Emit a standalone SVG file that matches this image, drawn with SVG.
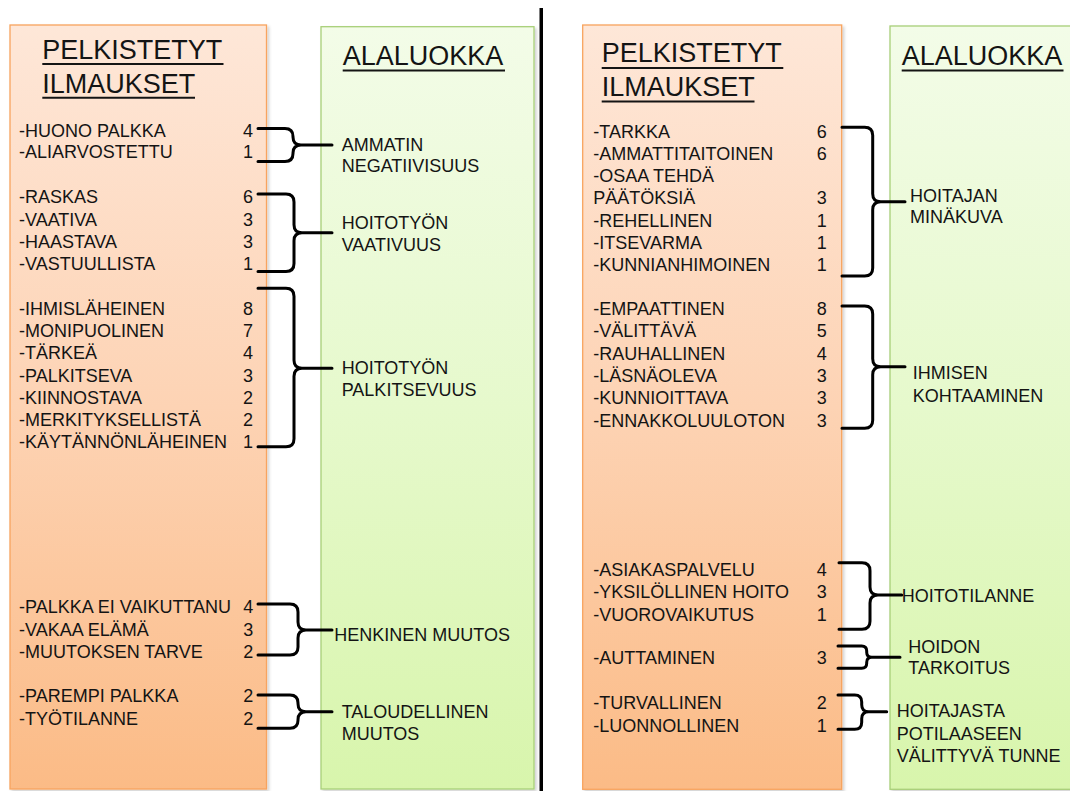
<svg xmlns="http://www.w3.org/2000/svg" width="1070" height="791" viewBox="0 0 1070 791">
<defs>
<linearGradient id="gOr" x1="0" y1="0" x2="0" y2="1">
<stop offset="0" stop-color="#fee7d8"/>
<stop offset="0.5" stop-color="#fdd3b4"/>
<stop offset="1" stop-color="#fbbb86"/>
</linearGradient>
<linearGradient id="gGr" x1="0" y1="0" x2="0" y2="1">
<stop offset="0" stop-color="#f3fce8"/>
<stop offset="0.5" stop-color="#e6f9cc"/>
<stop offset="1" stop-color="#d8f5ac"/>
</linearGradient>
<filter id="sh" x="-5%" y="-5%" width="115%" height="115%">
<feDropShadow dx="2" dy="2" stdDeviation="1.5" flood-color="#000" flood-opacity="0.18"/>
</filter>
</defs>
<style>
.or{fill:url(#gOr);stroke:#f8a45e;stroke-width:1.3;filter:url(#sh)}
.gr{fill:url(#gGr);stroke:#a8cf78;stroke-width:1.3;filter:url(#sh)}
text{font-family:"Liberation Sans",Arial,sans-serif;fill:#141414}
.h{font-size:27px}
.t{font-size:18px}
.n{font-size:18px;text-anchor:end}
.ul{stroke:#141414;stroke-width:2}
.br{fill:none;stroke:#000;stroke-width:3;stroke-linecap:round;stroke-linejoin:round}
</style>
<rect width="1070" height="791" fill="#ffffff"/>

<!-- divider -->
<rect id="divider" x="539.5" y="8" width="3.5" height="783" fill="#000"/>

<!-- Left panel -->
<g id="left-expressions">
<rect class="or" x="10" y="25" width="256.5" height="764"/>
<text class="h" x="42.3" y="59.3">PELKISTETYT</text>
<line class="ul" x1="42.3" y1="64" x2="223.5" y2="64"/>
<text class="h" x="42.3" y="92.7">ILMAUKSET</text>
<line class="ul" x1="42.3" y1="97.7" x2="195" y2="97.7"/>
</g>
<g id="left-subclass">
<rect class="gr" x="321" y="26.7" width="213" height="762.3"/>
<text class="h" x="342.7" y="65">ALALUOKKA</text>
<line class="ul" x1="342.7" y1="70.5" x2="505" y2="70.5"/>
</g>

<g id="group-l1">
<text class="t" x="19" y="136.7">-HUONO PALKKA</text><text class="n" x="253" y="136.7">4</text>
<text class="t" x="19" y="157.7">-ALIARVOSTETTU</text><text class="n" x="253" y="157.7">1</text>
</g>
<g id="label-l1">
<text class="t" x="341.7" y="150.7">AMMATIN</text>
<text class="t" x="341.7" y="171.7">NEGATIIVISUUS</text>
</g>

<g id="group-l2">
<text class="t" x="19" y="203.3">-RASKAS</text><text class="n" x="253" y="203.3">6</text>
<text class="t" x="19" y="225.5">-VAATIVA</text><text class="n" x="253" y="225.5">3</text>
<text class="t" x="19" y="247.8">-HAASTAVA</text><text class="n" x="253" y="247.8">3</text>
<text class="t" x="19" y="270">-VASTUULLISTA</text><text class="n" x="253" y="270">1</text>
</g>
<g id="label-l2">
<text class="t" x="341.7" y="229.3">HOITOTYÖN</text>
<text class="t" x="341.7" y="251">VAATIVUUS</text>
</g>

<g id="group-l3">
<text class="t" x="19" y="315">-IHMISLÄHEINEN</text><text class="n" x="253" y="315">8</text>
<text class="t" x="19" y="337.2">-MONIPUOLINEN</text><text class="n" x="253" y="337.2">7</text>
<text class="t" x="19" y="359.4">-TÄRKEÄ</text><text class="n" x="253" y="359.4">4</text>
<text class="t" x="19" y="381.6">-PALKITSEVA</text><text class="n" x="253" y="381.6">3</text>
<text class="t" x="19" y="403.8">-KIINNOSTAVA</text><text class="n" x="253" y="403.8">2</text>
<text class="t" x="19" y="426">-MERKITYKSELLISTÄ</text><text class="n" x="253" y="426">2</text>
<text class="t" x="19" y="448.3">-KÄYTÄNNÖNLÄHEINEN</text><text class="n" x="253" y="448.3">1</text>
</g>
<g id="label-l3">
<text class="t" x="341.7" y="374">HOITOTYÖN</text>
<text class="t" x="341.7" y="396">PALKITSEVUUS</text>
</g>

<g id="group-l4">
<text class="t" x="19" y="613.3">-PALKKA EI VAIKUTTANU</text><text class="n" x="253.3" y="613.3">4</text>
<text class="t" x="19" y="635.7">-VAKAA ELÄMÄ</text><text class="n" x="253.3" y="635.7">3</text>
<text class="t" x="19" y="657.7">-MUUTOKSEN TARVE</text><text class="n" x="253.3" y="657.7">2</text>
</g>
<g id="label-l4">
<text class="t" x="334.3" y="641">HENKINEN MUUTOS</text>
</g>

<g id="group-l5">
<text class="t" x="19" y="701.7">-PAREMPI PALKKA</text><text class="n" x="253.3" y="701.7">2</text>
<text class="t" x="19" y="724.5">-TYÖTILANNE</text><text class="n" x="253.3" y="724.5">2</text>
</g>
<g id="label-l5">
<text class="t" x="341.7" y="718.3">TALOUDELLINEN</text>
<text class="t" x="341.7" y="740">MUUTOS</text>
</g>

<!-- Right panel -->
<g id="right-expressions">
<rect class="or" x="582.7" y="25" width="259" height="764.3"/>
<text class="h" x="601.7" y="62">PELKISTETYT</text>
<line class="ul" x1="601.7" y1="68" x2="783.3" y2="68"/>
<text class="h" x="601.7" y="96">ILMAUKSET</text>
<line class="ul" x1="601.7" y1="101.5" x2="754.5" y2="101.5"/>
</g>
<g id="right-subclass">
<rect class="gr" x="890" y="26" width="190" height="763.3"/>
<text class="h" x="901.7" y="65">ALALUOKKA</text>
<line class="ul" x1="901.7" y1="70.5" x2="1063.5" y2="70.5"/>
</g>

<g id="group-r1">
<text class="t" x="593.3" y="138.3">-TARKKA</text><text class="n" x="826.7" y="138.3">6</text>
<text class="t" x="593.3" y="160.3">-AMMATTITAITOINEN</text><text class="n" x="826.7" y="160.3">6</text>
<text class="t" x="593.3" y="182.3">-OSAA TEHDÄ</text>
<text class="t" x="593.3" y="204.3">PÄÄTÖKSIÄ</text><text class="n" x="826.7" y="204.3">3</text>
<text class="t" x="593.3" y="226.5">-REHELLINEN</text><text class="n" x="826.7" y="226.5">1</text>
<text class="t" x="593.3" y="248.8">-ITSEVARMA</text><text class="n" x="826.7" y="248.8">1</text>
<text class="t" x="593.3" y="271">-KUNNIANHIMOINEN</text><text class="n" x="826.7" y="271">1</text>
</g>
<g id="label-r1">
<text class="t" x="910" y="201.7">HOITAJAN</text>
<text class="t" x="910" y="223.3">MINÄKUVA</text>
</g>

<g id="group-r2">
<text class="t" x="593.3" y="315">-EMPAATTINEN</text><text class="n" x="826.7" y="315">8</text>
<text class="t" x="593.3" y="337.3">-VÄLITTÄVÄ</text><text class="n" x="826.7" y="337.3">5</text>
<text class="t" x="593.3" y="359.7">-RAUHALLINEN</text><text class="n" x="826.7" y="359.7">4</text>
<text class="t" x="593.3" y="382">-LÄSNÄOLEVA</text><text class="n" x="826.7" y="382">3</text>
<text class="t" x="593.3" y="404.4">-KUNNIOITTAVA</text><text class="n" x="826.7" y="404.4">3</text>
<text class="t" x="593.3" y="426.7">-ENNAKKOLUULOTON</text><text class="n" x="826.7" y="426.7">3</text>
</g>
<g id="label-r2">
<text class="t" x="912.7" y="379.3">IHMISEN</text>
<text class="t" x="912.7" y="401.7">KOHTAAMINEN</text>
</g>

<g id="group-r3">
<text class="t" x="593.3" y="575.7">-ASIAKASPALVELU</text><text class="n" x="826.7" y="575.7">4</text>
<text class="t" x="593.3" y="598.2">-YKSILÖLLINEN HOITO</text><text class="n" x="826.7" y="598.2">3</text>
<text class="t" x="593.3" y="620.7">-VUOROVAIKUTUS</text><text class="n" x="826.7" y="620.7">1</text>
</g>
<g id="label-r3">
<text class="t" x="901.7" y="601.7">HOITOTILANNE</text>
</g>

<g id="group-r4">
<text class="t" x="593.3" y="664.3">-AUTTAMINEN</text><text class="n" x="826.7" y="664.3">3</text>
</g>
<g id="label-r4">
<text class="t" x="908.3" y="652.7">HOIDON</text>
<text class="t" x="908.3" y="674.3">TARKOITUS</text>
</g>

<g id="group-r5">
<text class="t" x="593.3" y="709.3">-TURVALLINEN</text><text class="n" x="826.7" y="709.3">2</text>
<text class="t" x="593.3" y="731.7">-LUONNOLLINEN</text><text class="n" x="826.7" y="731.7">1</text>
</g>
<g id="label-r5">
<text class="t" x="896.7" y="717.3">HOITAJASTA</text>
<text class="t" x="896.7" y="739.5">POTILAASEEN</text>
<text class="t" x="896.7" y="761.7">VÄLITTYVÄ TUNNE</text>
</g>

<!-- connectors (curly braces) -->
<g id="connectors">
<path class="br" d="M258,128.5 L285,128.5 Q293,128.5 293,136.5 L293,137 Q293,145 301,145 L332,145 M301,145 Q293,145 293,153 L293,153.5 Q293,161.5 285,161.5 L258,161.5"/>
<path class="br" d="M258,194 L286,194 Q294,194 294,202 L294,224.7 Q294,232.7 302,232.7 L332,232.7 M302,232.7 Q294,232.7 294,240.7 L294,263.5 Q294,271.5 286,271.5 L258,271.5"/>
<path class="br" d="M258,288.3 L286,288.3 Q294,288.3 294,296.3 L294,360.3 Q294,368.3 302,368.3 L332,368.3 M302,368.3 Q294,368.3 294,376.3 L294,438.7 Q294,446.7 286,446.7 L258,446.7"/>
<path class="br" d="M258,604 L290,604 Q298,604 298,612 L298,622 Q298,630 306,630 L332,630 M306,630 Q298,630 298,638 L298,647 Q298,655 290,655 L258,655"/>
<path class="br" d="M258,695 L290,695 Q298,695 298,703 L298,703.7 Q298,711.7 306,711.7 L332,711.7 M306,711.7 Q298,711.7 298,719.7 L298,720.3 Q298,728.3 290,728.3 L258,728.3"/>
<path class="br" d="M842,127.3 L864.7,127.3 Q872.7,127.3 872.7,135.3 L872.7,193.7 Q872.7,201.7 880.7,201.7 L905,201.7 M880.7,201.7 Q872.7,201.7 872.7,209.7 L872.7,268 Q872.7,276 864.7,276 L842,276"/>
<path class="br" d="M842,306 L864.7,306 Q872.7,306 872.7,314 L872.7,358.7 Q872.7,366.7 880.7,366.7 L905,366.7 M880.7,366.7 Q872.7,366.7 872.7,374.7 L872.7,420.3 Q872.7,428.3 864.7,428.3 L842,428.3"/>
<path class="br" d="M839,562.7 L862,562.7 Q870,562.7 870,570.7 L870,587 Q870,595 878,595 L901.7,595 M878,595 Q870,595 870,603 L870,621.3 Q870,629.3 862,629.3 L839,629.3"/>
<path class="br" d="M838,646 L861.7,646 Q866.7,646 866.7,651 L866.7,652.3 Q866.7,657.3 871.7,657.3 L900,657.3 M871.7,657.3 Q866.7,657.3 866.7,662.3 L866.7,663.3 Q866.7,668.3 861.7,668.3 L838,668.3"/>
<path class="br" d="M838,695 L854.7,695 Q861.7,695 861.7,702 L861.7,704.7 Q861.7,711.7 868.7,711.7 L886.7,711.7 M868.7,711.7 Q861.7,711.7 861.7,718.7 L861.7,722.3 Q861.7,729.3 854.7,729.3 L838,729.3"/>
</g>
</svg>
